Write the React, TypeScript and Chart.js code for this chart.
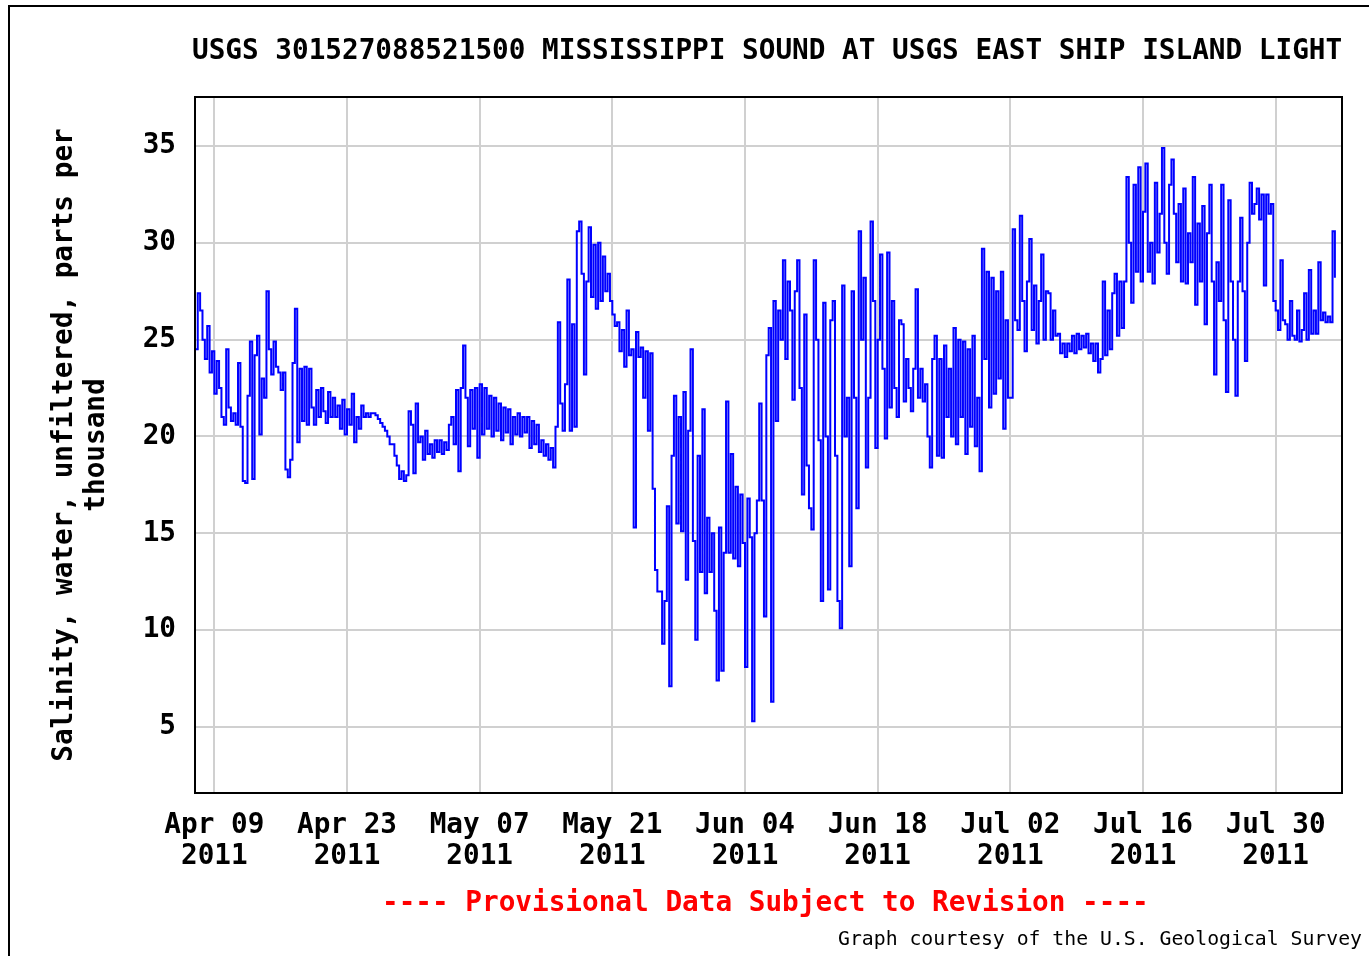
import React, { useEffect, useRef } from "react";
import { Chart, registerables } from "chart.js";

Chart.register(...registerables);

// Time axis: days relative to Apr 09 2011 00:00; samples every 6 hours from Apr 07 2011.
const START_DAY = -2;
const STEP_DAYS = 0.25;

// Salinity, parts per thousand (4 readings per day)
const salinity: number[] = [
  24.5, 27.4, 26.5, 25.0,
  24.0, 25.7, 23.3, 24.4,
  22.2, 23.9, 22.5, 21.0,
  20.6, 24.5, 21.5, 20.8,
  21.2, 20.6, 23.8, 20.5,
  17.7, 17.6, 22.1, 24.9,
  17.8, 24.2, 25.2, 20.1,
  23.0, 22.0, 27.5, 24.5,
  23.2, 24.9, 23.6, 23.3,
  22.4, 23.3, 18.3, 17.9,
  18.8, 23.8, 26.6, 19.7,
  23.5, 20.8, 23.6, 20.6,
  23.5, 21.5, 20.6, 22.4,
  21.0, 22.5, 21.3, 20.7,
  22.3, 21.0, 22.0, 21.0,
  21.6, 20.4, 21.9, 20.1,
  21.4, 20.6, 22.2, 19.7,
  21.0, 20.4, 21.6, 21.0,
  21.2, 21.0, 21.2, 21.2,
  21.1, 20.9, 20.7, 20.5,
  20.3, 20.0, 19.6, 19.6,
  19.0, 18.5, 17.8, 18.2,
  17.7, 18.0, 21.3, 20.6,
  18.1, 21.7, 19.7, 20.0,
  18.8, 20.3, 19.1, 19.6,
  18.9, 19.8, 19.2, 19.8,
  19.1, 19.7, 19.3, 20.6,
  21.0, 19.6, 22.4, 18.2,
  22.5, 24.7, 22.0, 19.5,
  22.4, 20.4, 22.5, 18.9,
  22.7, 20.1, 22.5, 20.4,
  22.1, 20.0, 22.0, 20.3,
  21.7, 19.8, 21.5, 20.2,
  21.4, 19.6, 21.0, 20.1,
  21.2, 20.0, 21.0, 20.2,
  21.0, 19.4, 20.8, 19.6,
  20.6, 19.2, 19.8, 19.0,
  19.6, 18.8, 19.4, 18.4,
  20.5, 25.9, 21.7, 20.3,
  22.7, 28.1, 20.3, 25.8,
  20.5, 30.6, 31.1, 28.4,
  23.2, 28.0, 30.8, 27.2,
  29.9, 26.6, 30.0, 27.0,
  29.3, 27.5, 28.4, 27.0,
  26.3, 25.7, 25.9, 24.4,
  25.5, 23.6, 26.5, 24.2,
  24.5, 15.3, 25.4, 24.1,
  24.6, 22.0, 24.4, 20.3,
  24.3, 17.3, 13.1, 12.0,
  12.0, 9.3, 11.5, 16.4,
  7.1, 19.0, 22.1, 15.5,
  21.0, 15.1, 22.3, 12.6,
  20.3, 24.5, 14.6, 9.5,
  19.0, 13.0, 21.4, 11.9,
  15.8, 13.0, 15.0, 11.0,
  7.4, 15.3, 7.9, 14.0,
  21.8, 14.0, 19.1, 13.7,
  17.4, 13.3, 17.0, 14.5,
  8.1, 16.8, 14.8, 5.3,
  15.0, 16.7, 21.7, 16.7,
  10.7, 24.2, 25.6, 6.3,
  27.0, 20.8, 26.5, 25.0,
  29.1, 24.0, 28.0, 26.5,
  21.9, 27.5, 29.1, 22.5,
  17.0, 26.3, 18.5, 16.3,
  15.2, 29.1, 25.0, 19.8,
  11.5, 26.9, 20.0, 12.1,
  26.0, 27.0, 19.0, 11.5,
  10.1, 27.8, 20.0, 22.0,
  13.3, 27.5, 22.0, 16.3,
  30.6, 25.0, 28.2, 18.4,
  22.0, 31.1, 27.0, 19.4,
  25.0, 29.4, 23.5, 19.9,
  29.5, 21.5, 27.0, 22.5,
  21.0, 26.0, 25.8, 21.8,
  24.0, 22.5, 21.3, 23.5,
  27.6, 22.0, 23.5, 21.8,
  22.7, 20.0, 18.4, 24.0,
  25.2, 19.0, 24.0, 18.9,
  24.7, 21.0, 23.5, 20.0,
  25.6, 19.6, 25.0, 21.0,
  24.9, 19.1, 24.5, 20.5,
  25.2, 19.5, 22.0, 18.2,
  29.7, 24.0, 28.5, 21.5,
  28.2, 22.2, 27.5, 23.0,
  28.5, 20.4, 26.0, 22.0,
  22.0, 30.7, 26.0, 25.5,
  31.4, 27.0, 24.4, 28.0,
  30.2, 25.5, 27.8, 24.8,
  27.0, 29.4, 25.0, 27.5,
  27.4, 25.0, 26.5, 25.2,
  25.3, 24.3, 24.8, 24.1,
  24.8, 24.4, 25.2, 24.3,
  25.3, 24.5, 25.2, 24.6,
  25.3, 24.3, 24.8, 23.9,
  24.8, 23.3, 24.0, 28.0,
  24.2, 26.5, 24.5, 27.4,
  28.4, 25.2, 28.0, 25.6,
  28.0, 33.4, 30.0, 26.9,
  33.0, 28.5, 33.9, 28.0,
  31.6, 34.1, 28.5, 30.0,
  27.9, 33.1, 29.5, 31.5,
  34.9, 30.0, 28.4, 33.0,
  34.3, 31.5, 29.0, 32.0,
  28.0, 32.8, 27.9, 30.5,
  29.0, 33.4, 26.8, 31.0,
  28.0, 31.9, 25.8, 30.5,
  33.0, 28.0, 23.2, 29.0,
  27.0, 33.0, 26.0, 22.3,
  32.2, 28.0, 25.0, 22.1,
  28.0, 31.3, 27.5, 23.9,
  30.0, 33.1, 31.5, 32.0,
  32.8, 31.2, 32.5, 27.8,
  32.5, 31.5, 32.0, 27.0,
  26.5, 25.5, 29.1, 26.0,
  25.8, 25.0, 27.0, 25.2,
  25.0, 26.5, 24.9, 25.5,
  27.4, 25.0, 28.6, 25.3,
  26.5, 25.3, 29.0, 26.0,
  26.4, 25.9, 26.2, 25.9,
  30.6, 28.2,
];

const tickDays = [0, 14, 28, 42, 56, 70, 84, 98, 112];
const tickMonthDay = ["Apr 09", "Apr 23", "May 07", "May 21", "Jun 04", "Jun 18", "Jul 02", "Jul 16", "Jul 30"];
const tickYear = "2011";
const yTicks = [5, 10, 15, 20, 25, 30, 35];

const TITLE = "USGS 301527088521500 MISSISSIPPI SOUND AT USGS EAST SHIP ISLAND LIGHT";
const Y_TITLE = ["Salinity, water, unfiltered, parts per", "thousand"];
const FOOTER = "---- Provisional Data Subject to Revision ----";
const COURTESY = "Graph courtesy of the U.S. Geological Survey";

const FONT = '"DejaVu Sans Mono", monospace';
const FS = 27.7;

const framePlugin = {
  id: "plotFrame",
  afterDatasetsDraw(chart: any) {
    const { ctx, chartArea } = chart;
    const { left, top, right, bottom } = chartArea;
    ctx.save();
    ctx.strokeStyle = "#000";
    ctx.lineWidth = 2;
    ctx.strokeRect(left, top, right - left, bottom - top);
    ctx.restore();
  },
};

export default function App() {
  const canvasRef = useRef<HTMLCanvasElement | null>(null);

  useEffect(() => {
    if (!canvasRef.current) return;
    const points = salinity.map((v, i) => ({ x: START_DAY + i * STEP_DAYS, y: v }));
    const chart = new Chart(canvasRef.current, {
      type: "line",
      data: {
        datasets: [
          {
            data: points,
            borderColor: "#0000ff",
            borderWidth: 2,
            pointRadius: 0,
            tension: 0,
            stepped: true,
            fill: false,
          },
        ],
      },
      options: {
        animation: false,
        responsive: false,
        devicePixelRatio: 1,
        events: [],
        layout: { padding: { top: 97, right: 27, left: 0, bottom: 0 } },
        plugins: { legend: { display: false }, tooltip: { enabled: false }, title: { display: false } },
        scales: {
          x: {
            type: "linear",
            min: -2.04,
            max: 119.0,
            afterBuildTicks: (s: any) => {
              s.ticks = tickDays.map((v) => ({ value: v }));
            },
            afterFit: (s: any) => {
              s.height = 163;
            },
            grid: { color: "#d0d0d0", lineWidth: 2, drawTicks: false },
            border: { display: false },
            ticks: {
              autoSkip: false,
              maxRotation: 0,
              minRotation: 0,
              padding: 17,
              color: "#000",
              font: { family: FONT, size: FS, weight: "bold", lineHeight: 1.12 },
              callback: (_v: any, i: number) => [tickMonthDay[i], tickYear],
            },
          },
          y: {
            type: "linear",
            min: 1.59,
            max: 37.53,
            afterBuildTicks: (s: any) => {
              s.ticks = yTicks.map((v) => ({ value: v }));
            },
            afterFit: (s: any) => {
              s.width = 195;
            },
            grid: { color: "#d0d0d0", lineWidth: 2, drawTicks: false },
            border: { display: false },
            ticks: {
              padding: 19,
              color: "#000",
              font: { family: FONT, size: FS, weight: "bold" },
            },
            title: {
              display: true,
              text: Y_TITLE,
              color: "#000",
              font: { family: FONT, size: FS, weight: "bold", lineHeight: 1.15 },
              padding: { top: 49, bottom: 0 },
            },
          },
        },
      },
      plugins: [framePlugin],
    } as any);
    return () => chart.destroy();
  }, []);

  const textBase: React.CSSProperties = {
    position: "absolute",
    fontFamily: FONT,
    whiteSpace: "pre",
    lineHeight: "32px",
    margin: 0,
  };

  return (
    <div style={{ position: "fixed", left: 0, top: 0, width: 1369, height: 956, background: "#fff", overflow: "hidden" }}>
      <div
        style={{
          position: "absolute",
          left: 8,
          top: 5,
          width: 1400,
          height: 1000,
          borderLeft: "2px solid #000",
          borderTop: "2px solid #000",
        }}
      />
      <canvas ref={canvasRef} width={1369} height={956} style={{ position: "absolute", left: 0, top: 0 }} />
      <div style={{ ...textBase, left: 192, top: 34, fontSize: FS, fontWeight: "bold", color: "#000" }}>{TITLE}</div>
      <div style={{ ...textBase, left: 382, top: 886, fontSize: FS, fontWeight: "bold", color: "#ff0000" }}>{FOOTER}</div>
      <div style={{ ...textBase, left: 838, top: 927, fontSize: 19.8, lineHeight: "24px", color: "#000" }}>{COURTESY}</div>
    </div>
  );
}
